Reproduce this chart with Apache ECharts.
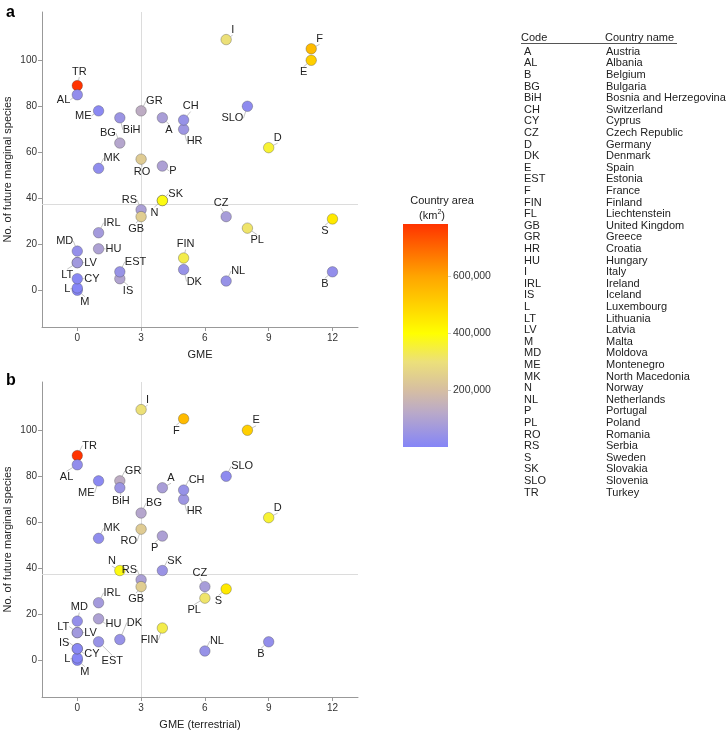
<!DOCTYPE html>
<html><head><meta charset="utf-8">
<script src="https://cdn.jsdelivr.net/npm/echarts@6/dist/echarts.min.js"></script>
<style>html,body{margin:0;padding:0;background:#fff}#c{width:728px;height:731px}</style>
</head><body><div id="c"></div>
<script>
// ---------- data ----------
const plotCodes = ['A','AL','B','BG','BiH','CH','CY','CZ','D','DK','E','EST','F','FIN','GB','GR','HR','HU','I','IRL','IS','L','LT','LV','M','MD','ME','MK','N','NL','P','PL','RO','RS','S','SK','SLO','TR'];
const species   = [75,85,8,64,75,74,5,32,62,9,100,8,105,14,32,78,70,18,109,25,5,1,12,12,0,17,78,53,39,4,54,27,57,35,31,39,80,89];
const gmeAll    = [4,0,12,2,2,5,0,7,9,5,11,2,11,5,3,3,5,1,7,1,2,0,0,0,0,0,1,1,4,7,4,8,3,3,12,4,8,0];
const gmeTerr   = [4,0,9,3,2,5,0,6,9,2,8,1,5,4,3,2,5,1,3,1,0,0,0,0,0,0,1,1,2,6,4,6,3,3,7,4,7,0];
const areaKm2   = [83879,28748,30689,110994,51197,41285,9251,78866,357022,42933,505990,45339,551695,338455,242495,131957,56594,93028,301340,70273,103000,2586,65300,64589,316,33846,13812,25713,385207,41543,92212,312696,238397,88361,450295,49035,20273,783562];
const xTicks = [0,3,6,9,12];
const yTicks = [0,20,40,60,80,100];
const areaTicks = [200000,400000,600000];
const refGME = 3;
const refSpecies = 37.3;
const tableCodes = ['A','AL','B','BG','BiH','CH','CY','CZ','D','DK','E','EST','F','FIN','FL','GB','GR','HR','HU','I','IRL','IS','L','LT','LV','M','MD','ME','MK','N','NL','P','PL','RO','RS','S','SK','SLO','TR'];
const tableNames = ['Austria','Albania','Belgium','Bulgaria','Bosnia and Herzegovina','Switzerland','Cyprus','Czech Republic','Germany','Denmark','Spain','Estonia','France','Finland','Liechtenstein','United Kingdom','Greece','Croatia','Hungary','Italy','Ireland','Iceland','Luxembourg','Lithuania','Latvia','Malta','Moldova','Montenegro','North Macedonia','Norway','Netherlands','Portugal','Poland','Romania','Serbia','Sweden','Slovakia','Slovenia','Turkey'];

// ---------- styling ----------
const FONT = 'Liberation Sans, Arial, sans-serif';
const AREA_MAX = 785000;
const cstops = [[0,'#8585f7'],[120000,'#b9a9c9'],[200000,'#d6bea2'],[300000,'#ece07a'],[400000,'#ffff00'],[600000,'#ffa500'],[785000,'#ff3300']];
function hex2rgb(h){return [1,3,5].map(i=>parseInt(h.substr(i,2),16));}
function colorAt(v){
  for(let i=0;i<cstops.length-1;i++){
    const [a,ca]=cstops[i],[b,cb]=cstops[i+1];
    if(v<=b){const t=(v-a)/(b-a);const A=hex2rgb(ca),B=hex2rgb(cb);
      return 'rgb('+A.map((x,k)=>Math.round(x+(B[k]-x)*t)).join(',')+')';}
  }
  return cstops[cstops.length-1][1];
}
const vmColors=[];for(let i=0;i<=100;i++)vmColors.push(colorAt(AREA_MAX*i/100));

const placeA = {A:'SE',AL:'WSW',B:'SW',BG:'NW',BiH:'SE',CH:'NNE',CY:'E',CZ:'NNW',D:'NE',DK:'SE',E:'SW',EST:'NE',F:'NE',FIN:'N',GB:'SSW',GR:'NE',HR:'SE',HU:'E',I:'NE',IRL:'NE',IS:'SE',L:'W',LT:'SW',LV:'E',M:'SE',MD:'NW',ME:'WSW',MK:'NE',N:'SW',NL:'NE',P:'ESE',PL:'SE',RO:'S',RS:'NW',S:'SW',SK:'ENE',SLO:'SW',TR:'N'};
const placeB = {A:'NE',AL:'SW',B:'SW',BG:'NE',BiH:'S',CH:'NE',CY:'ESE',CZ:'NNW',D:'NE',DK:'NE2',E:'NE',EST:'SE2',F:'SW',FIN:'SW',GB:'SSW',GR:'NE',HR:'SE',HU:'ESE',I:'NE',IRL:'NE',IS:'WNW',L:'W',LT:'WNW',LV:'E',M:'SE',MD:'N',ME:'SW',MK:'NE',N:'NW',NL:'NE',P:'SW',PL:'SW',RO:'SW',RS:'NW',S:'SW',SK:'NE',SLO:'NE',TR:'NE'};
const OFF = {NE:[5,-10,'left'],NE2:[7,-17,'left'],E:[7,0,'left'],ENE:[6,-7,'left'],ESE:[7,5,'left'],SE:[3,12,'left'],SE2:[3,19,'left'],S:[1,13,'center'],SSW:[-5,12,'center'],SW:[-4,12,'right'],W:[-7,1,'right'],WSW:[-7,5,'right'],WNW:[-8,-6,'right'],NW:[-4,-10,'right'],N:[2,-14,'center'],NNE:[7,-14,'center'],NNW:[-5,-14,'center']};

function makeData(gme){
  const d=[];
  for(let i=plotCodes.length-1;i>=0;i--) d.push({name:plotCodes[i],value:[gme[i],species[i],areaKm2[i]]});
  return d;
}
function layoutFn(place){
  return function(p){
    const o=OFF[place[p.text]]||OFF.NE;
    const cx=p.rect.x+p.rect.width/2, cy=p.rect.y+p.rect.height/2;
    return {x:cx+o[0], y:cy+o[1], align:o[2], verticalAlign:'middle'};
  };
}
function scatterSeries(idx,gme,place){
  return {
    type:'scatter', xAxisIndex:idx, yAxisIndex:idx, z:3,
    symbolSize:10.5,
    itemStyle:{borderColor:'rgba(60,60,60,0.55)',borderWidth:0.6,opacity:1},
    label:{show:true,formatter:'{b}',position:'inside',color:'#222',fontSize:11,fontFamily:FONT},
    labelLine:{show:true,lineStyle:{color:'#b5b5b5',width:0.8}},
    labelLayout:layoutFn(place),
    emphasis:{disabled:true},
    data:makeData(gme)
  };
}
function refSeries(idx){
  return {type:'scatter',xAxisIndex:idx,yAxisIndex:idx,data:[],z:1,silent:true,
    markLine:{z:1,silent:true,symbol:'none',label:{show:false},animation:false,
      lineStyle:{color:'#dcdcdc',type:'solid',width:1},
      data:[{xAxis:refGME},{yAxis:refSpecies}]}};
}
function xAx(idx,name){
  return {type:'value',gridIndex:idx,min:-1.66,max:13.2,name:name,nameLocation:'middle',nameGap:22,
    nameTextStyle:{color:'#222',fontSize:11,fontFamily:FONT},
    axisLine:{onZero:false,lineStyle:{color:'#999'}},axisTick:{show:true,length:4,customValues:xTicks,lineStyle:{color:'#999'}},
    axisLabel:{customValues:xTicks,color:'#333',fontSize:10,fontFamily:FONT,margin:6},splitLine:{show:false}};
}
function yAx(idx){
  return {type:'value',gridIndex:idx,min:-16,max:121,name:'No. of future marginal species',nameLocation:'middle',nameGap:29,
    nameTextStyle:{color:'#222',fontSize:11,fontFamily:FONT},
    axisLine:{show:true,onZero:false,lineStyle:{color:'#999'}},axisTick:{show:true,length:4,customValues:yTicks,lineStyle:{color:'#999'}},
    axisLabel:{customValues:yTicks,color:'#333',fontSize:10,fontFamily:FONT,margin:5},splitLine:{show:false}};
}

// table graphics
const graphics=[];
const rowY0=51.7, rowH=11.6;
graphics.push({type:'text',left:521,top:32,style:{text:'Code',fill:'#222',font:'11px '+FONT}});
graphics.push({type:'text',left:605,top:32,style:{text:'Country name',fill:'#222',font:'11px '+FONT}});
graphics.push({type:'line',shape:{x1:521,y1:43.5,x2:677,y2:43.5},style:{stroke:'#555',lineWidth:1}});
tableCodes.forEach((c,i)=>{
  graphics.push({type:'text',x:524,y:rowY0+i*rowH,style:{text:c,fill:'#222',font:'11px '+FONT,textVerticalAlign:'middle'}});
  graphics.push({type:'text',x:606,y:rowY0+i*rowH,style:{text:tableNames[i],fill:'#222',font:'11px '+FONT,textVerticalAlign:'middle'}});
});

const chart=echarts.init(document.getElementById('c'),null,{renderer:'canvas'});
chart.setOption({
  animation:false,
  backgroundColor:'#fff',
  title:[
    {text:'a',left:1,top:0,textStyle:{fontSize:16,fontWeight:'bold',color:'#000',fontFamily:FONT}},
    {text:'b',left:1,top:368,textStyle:{fontSize:16,fontWeight:'bold',color:'#000',fontFamily:FONT}},
    {text:'Country area',left:437,top:190,textAlign:'center',textStyle:{fontSize:11,fontWeight:'normal',color:'#222',fontFamily:FONT}},
    {text:'(km{s|2})',left:427,top:204,textAlign:'center',textStyle:{fontSize:11,fontWeight:'normal',color:'#222',fontFamily:FONT,rich:{s:{fontSize:7,verticalAlign:'top',padding:[0,0,6,0],color:'#222'}}}}
  ],
  grid:[
    {left:42,top:12,width:316,height:315},
    {left:42,top:382,width:316,height:315},
    {left:403,top:224,width:45,height:223}
  ],
  xAxis:[xAx(0,'GME'),xAx(1,'GME (terrestrial)'),
    {type:'category',gridIndex:2,data:['area'],show:false}],
  yAxis:[yAx(0),yAx(1),
    {type:'value',gridIndex:2,min:0,max:AREA_MAX,position:'right',
     axisLine:{show:false},axisTick:{show:true,length:3,customValues:areaTicks,lineStyle:{color:'#ccc'}},
     axisLabel:{customValues:areaTicks,color:'#333',fontSize:10.5,fontFamily:FONT,margin:5,
       formatter:v=>v.toLocaleString('en-US')},splitLine:{show:false}}],
  visualMap:{show:false,type:'continuous',min:0,max:AREA_MAX,dimension:2,seriesIndex:[2,3],inRange:{color:vmColors}},
  series:[
    refSeries(0),refSeries(1),
    scatterSeries(0,gmeAll,placeA),
    scatterSeries(1,gmeTerr,placeB),
    {type:'bar',xAxisIndex:2,yAxisIndex:2,barWidth:'100%',silent:true,
     data:[AREA_MAX],
     itemStyle:{color:new echarts.graphic.LinearGradient(0,0,0,1,
       cstops.map(s=>({offset:1-s[0]/AREA_MAX,color:s[1]})).reverse())}}
  ],
  graphic:graphics
});
</script></body></html>
